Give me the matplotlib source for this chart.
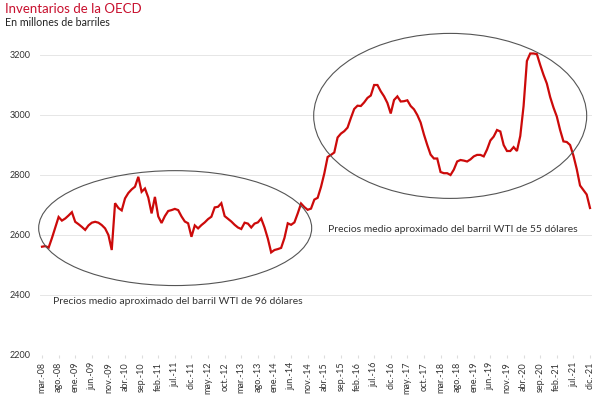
import matplotlib
matplotlib.use("Agg")
import matplotlib.pyplot as plt
from matplotlib.patches import Ellipse

# ---- data ----
inventories = [
    2561, 2563, 2558, 2590, 2625, 2660, 2648, 2655, 2665, 2676,
    2644, 2636, 2627, 2617, 2632, 2641, 2644, 2641, 2633, 2622,
    2600, 2550, 2706, 2690, 2682, 2722, 2740, 2752, 2761, 2794,
    2744, 2755, 2725, 2672, 2727, 2662, 2640, 2663, 2680, 2683,
    2687, 2683, 2662, 2645, 2639, 2594, 2632, 2622, 2633, 2642,
    2653, 2661, 2692, 2694, 2706, 2663, 2654, 2645, 2634, 2625,
    2620, 2641, 2638, 2625, 2638, 2642, 2655, 2625, 2588, 2542,
    2550, 2553, 2557, 2590, 2639, 2634, 2642, 2672, 2705, 2693,
    2684, 2688, 2718, 2724, 2760, 2805, 2860, 2867, 2875, 2925,
    2938, 2946, 2958, 2990, 3020, 3031, 3030, 3042, 3057, 3065,
    3100, 3100, 3079, 3062, 3040, 3005, 3050, 3062, 3045, 3046,
    3049, 3030, 3019, 3000, 2975, 2935, 2900, 2868, 2855, 2855,
    2810, 2806, 2806, 2800, 2818, 2845, 2850, 2848, 2845, 2852,
    2862, 2867, 2867, 2862, 2885, 2915, 2928, 2950, 2945, 2900,
    2880, 2880, 2893, 2880, 2930, 3030, 3180, 3205, 3205, 3203,
    3167, 3134, 3105, 3060, 3025, 2995, 2950, 2912, 2910, 2900,
    2865, 2820, 2765, 2750, 2735, 2690,
]
tick_labels = [
    "mar.-08", "ago.-08", "ene.-09", "jun.-09", "nov.-09", "abr.-10",
    "sep.-10", "feb.-11", "jul.-11", "dic.-11", "may.-12", "oct.-12",
    "mar.-13", "ago.-13", "ene.-14", "jun.-14", "nov.-14", "abr.-15",
    "sep.-15", "feb.-16", "jul.-16", "dic.-16", "may.-17", "oct.-17",
    "mar.-18", "ago.-18", "ene.-19", "jun.-19", "nov.-19", "abr.-20",
    "sep.-20", "feb.-21", "jul.-21", "dic.-21",
]
y_ticks = [2200, 2400, 2600, 2800, 3000, 3200]
title = "Inventarios de la OECD"
subtitle = "En millones de barriles"
note_1 = "Precios medio aproximado del barril WTI de 96 dólares"
note_2 = "Precios medio aproximado del barril WTI de 55 dólares"

plt.rcParams['font.family'] = ['Lato', 'DejaVu Sans']

W, H = 600, 397
fig = plt.figure(figsize=(6, 3.97), dpi=100)
fig.patch.set_facecolor('white')

ax_left, ax_right = 40, 592
ax_top, ax_bottom = 40, 355
ax = fig.add_axes([ax_left / W, 1 - ax_bottom / H,
                   (ax_right - ax_left) / W, (ax_bottom - ax_top) / H])

months = list(range(len(inventories)))
ax.plot(months, inventories, color='#cc0a0a', lw=1.6, solid_joinstyle='miter', zorder=3)

ax.set_xlim(-0.6, 165.6)
ax.set_ylim(2200, 3250)
ax.set_yticks(y_ticks)
ax.set_yticklabels([str(v) for v in y_ticks], fontsize=6.5, color='#333333')
ax.set_xticks(list(range(0, 5 * len(tick_labels), 5)))
ax.set_xticklabels(tick_labels, rotation=90, fontsize=6.5, color='#333333')
ax.tick_params(axis='y', length=0, pad=7)
ax.tick_params(axis='x', length=2, color='#dddddd', pad=3)
for s in ax.spines.values():
    s.set_visible(False)
ax.grid(axis='y', color='#e6e6e6', lw=0.7)
ax.set_axisbelow(True)

e1 = Ellipse((40.1, 2623), 82.2, 383, fill=False, ec='#555555', lw=0.8,
             clip_on=False, zorder=4)
e2 = Ellipse((122.9, 2997), 82.2, 550, fill=False, ec='#555555', lw=0.8,
             clip_on=False, zorder=4)
ax.add_patch(e1)
ax.add_patch(e2)

ax.text(41, 2377, note_1, ha='center', va='center', fontsize=7.5, color='#333333')
ax.text(123.8, 2620, note_2, ha='center', va='center', fontsize=7.5, color='#333333')

fig.text(5 / W, 1 - 3 / H, title, ha='left', va='top', fontsize=9.5, color='#c8102e')
fig.text(5 / W, 1 - 17 / H, subtitle, ha='left', va='top', fontsize=7.7, color='#222222')

fig.savefig('out.png', dpi=100)
